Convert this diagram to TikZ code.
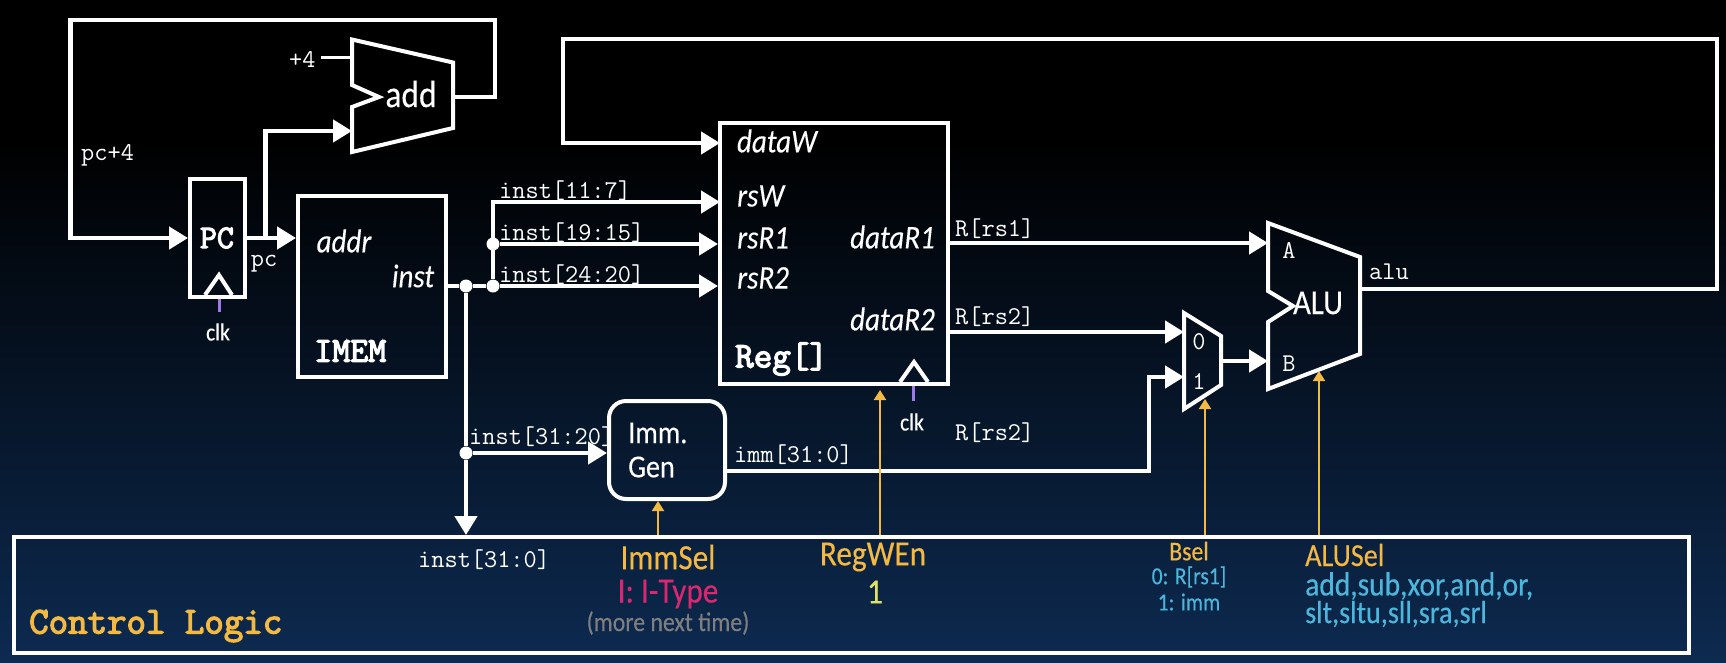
\documentclass[tikz,border=0pt]{standalone}
\usepackage{fontspec}
\setmainfont{Carlito}[FakeStretch=0.88, FakeBold=0.25]
\newfontfamily\boldmono{Latin Modern Mono}[FakeBold=3.5]
\definecolor{SlideNavy}{HTML}{0D2A50}
\definecolor{SignalOrange}{HTML}{F4B942}
\definecolor{TypePink}{HTML}{D9286F}
\definecolor{ValueYellow}{HTML}{DDE36A}
\definecolor{NoteGray}{HTML}{7F7F80}
\definecolor{ValueBlue}{HTML}{4DB6DC}
\definecolor{ClockPurple}{HTML}{9B7BE6}
\usetikzlibrary{arrows.meta}
\newcommand{\fsz}[1]{\fontsize{#1}{#1}\selectfont}
\tikzset{
  % Box styles
  blockbox/.style={rectangle, draw=white, line width=4pt, inner sep=0pt},
  blockline/.style={draw=white, line width=4pt, line join=miter},
  junctiondot/.style={circle, fill=white, minimum size=13pt, inner sep=0pt},
  % Arrow styles
  wire/.style={draw=white, line width=4.5pt, line join=miter},
  wirearrow/.style={wire, -{Triangle[length=19pt, width=22pt]}},
  signalarrow/.style={draw=SignalOrange, line width=2pt, -{Triangle[length=10pt, width=12pt]}},
  clockline/.style={draw=ClockPurple, line width=3pt},
  % Text styles
  monolabel/.style={text=white, inner sep=0pt, anchor=west, font=\fsz{25.6}\ttfamily},
  boldlabel/.style={text=white, inner sep=0pt, font=\fsz{35}\boldmono},
  pinlabel/.style={text=white, inner sep=0pt, font=\fsz{33}\itshape},
  blocklabel/.style={text=white, inner sep=0pt, font=\fsz{35}},
  clklabel/.style={text=white, inner sep=0pt, font=\fsz{24.5}},
  signallabel/.style={text=SignalOrange, inner sep=0pt, font=\fsz{35.5}},
  valuelabel/.style={text=ValueBlue, inner sep=0pt, font=\fsz{24.5}}
}
\begin{document}
\begin{tikzpicture}[x=1pt, y=-1pt]
  \useasboundingbox (0,0) rectangle (1726,662);
  % Background
  \fill[black] (0,0) rectangle (1726,141);
  \shade[top color=black, bottom color=SlideNavy] (0,140) rectangle (1726,662);

  % Boxes
  \node[blockbox, minimum width=55pt, minimum height=118pt] (pc) at (217.5,238) {};
  \node[blockbox, minimum width=148pt, minimum height=181pt] (imem) at (372,286.5) {};
  \node[blockbox, minimum width=228pt, minimum height=261pt] (reg) at (834,253.5) {};
  \node[blockbox, rounded corners=17pt, minimum width=116pt, minimum height=98pt] (imm) at (667,450) {};
  \node[blockbox, minimum width=1675pt, minimum height=116pt] (control) at (851,595) {};

  % Adder, ALU and mux
  \draw[blockline] (352,39.5) -- (453,62.5) -- (453,128) -- (352,152) -- (352,107) -- (379,97) -- (352,85) -- cycle;
  \draw[blockline] (1268,223) -- (1360,257) -- (1360,354) -- (1268,389) -- (1268,322) -- (1293,306) -- (1268,291) -- cycle;
  \draw[blockline] (1184,313) -- (1221,336) -- (1221,385) -- (1184,409) -- cycle;

  % Clock triangles
  \draw[blockline] (205,295) -- (219,275) -- (232,295);
  \draw[blockline] (900,382) -- (914,362) -- (928,382);
  \coordinate (pcclk) at (219,299);
  \coordinate (pcclkend) at (219,312);
  \coordinate (regclk) at (913,386);
  \coordinate (regclkend) at (913,401);
  \draw[clockline] (pcclk) -- (pcclkend);
  \draw[clockline] (regclk) -- (regclkend);

  % Points on the wires
  \coordinate (addin) at (352,131);
  \coordinate (addout) at (453,97);
  \coordinate (addfour) at (352,57);
  \coordinate (fourend) at (321,57);
  \coordinate (pcsplit) at (265.6,239);
  \coordinate (datawin) at (720,143);
  \coordinate (rswin) at (720,202);
  \coordinate (aluout) at (1360,289);
  \coordinate (alua) at (1268,243);
  \coordinate (alub) at (1268,361);
  \coordinate (muxa) at (1184,332);
  \coordinate (muxb) at (1184,377);
  \coordinate (muxout) at (1221,361);
  \coordinate (immbend) at (1149,471);
  \coordinate (immselin) at (658,501);
  \coordinate (regwenin) at (880,390);
  \coordinate (bselin) at (1205,399);
  \coordinate (aluselin) at (1319,371);

  \node[junctiondot] (dotinst) at (466,286) {};
  \node[junctiondot] (dotreg) at (493,286) {};
  \node[junctiondot] (dotrs) at (493,244) {};
  \node[junctiondot] (dotimm) at (466,453) {};

  % Wires
  \draw[wirearrow] (addout) -- (495,97) -- (495,20) -- (70.5,20) -- (70.5,238) -- (pc.west);
  \draw[wirearrow] (pc.east) -- (pc.east -| imem.west);
  \draw[wirearrow] (pcsplit) |- (addin);
  \draw[wire] (imem.east |- dotinst) -- (dotinst);
  \draw[wire] (dotinst) -- (dotreg);
  \draw[wirearrow] (dotreg) -- (dotreg -| reg.west);
  \draw[wirearrow] (dotrs) -- (dotrs -| reg.west);
  \draw[wirearrow] (dotreg) |- (rswin);
  \draw[wirearrow] (aluout) -- (1717,289) -- (1717,39) -- (563,39) -- (563,143) -- (datawin);
  \draw[wire] (dotinst) -- (dotimm);
  \draw[wirearrow] (dotimm) -- (dotimm |- control.north);
  \draw[wirearrow] (dotimm) -- (dotimm -| imm.west);
  \draw[wirearrow] (alua -| reg.east) -- (alua);
  \draw[wirearrow] (muxa -| reg.east) -- (muxa);
  \draw[wirearrow] (immbend -| imm.east) -- (immbend) |- (muxb);
  \draw[wirearrow] (muxout) -- (alub);
  \draw[draw=white, line width=3pt] (fourend) -- (addfour);

  % Control signals
  \draw[signalarrow] (immselin |- control.north) -- (immselin);
  \draw[signalarrow] (regwenin |- control.north) -- (regwenin);
  \draw[signalarrow] (bselin |- control.north) -- (bselin);
  \draw[signalarrow] (aluselin |- control.north) -- (aluselin);

  % Block labels
  \node[boldlabel, font=\fsz{33}\boldmono] (pclabel) at (217,238) {PC};
  \node[boldlabel, anchor=west] (imemlabel) at (314,351) {IMEM};
  \node[boldlabel, font=\fsz{36}\boldmono, anchor=west] (reglabel) at (735,359) {Reg[]};
  \node[blocklabel, font=\fsz{38}] (addlabel) at (411,94) {add};
  \node[blocklabel] (alulabel) at (1318,303) {ALU};
  \node[blocklabel, font=\fsz{32}, anchor=west] (immlabel) at (628,433) {Imm.};
  \node[blocklabel, font=\fsz{32}, anchor=west] (genlabel) at (628,467) {Gen};
  \node[clklabel] (clkpc) at (218,332) {clk};
  \node[clklabel] (clkreg) at (912,422) {clk};

  % Pin labels
  \node[pinlabel] (addrpin) at (344,241) {addr};
  \node[pinlabel] (instpin) at (413,276) {inst};
  \node[pinlabel] (datawpin) at (777,141) {dataW};
  \node[pinlabel, anchor=west] (rswpin) at (737,196) {rsW};
  \node[pinlabel, anchor=west] (rsr1pin) at (737,238) {rsR1};
  \node[pinlabel, anchor=west] (rsr2pin) at (737,278) {rsR2};
  \node[pinlabel, anchor=east] (datar1pin) at (935,237) {dataR1};
  \node[pinlabel, anchor=east] (datar2pin) at (935,319) {dataR2};
  \node[monolabel, anchor=center] (apin) at (1289,250) {A};
  \node[monolabel, anchor=center] (bpin) at (1289,364) {B};
  \node[monolabel, anchor=center] (zeropin) at (1199,342) {0};
  \node[monolabel, anchor=center] (onepin) at (1199,382) {1};

  % Wire labels
  \node[monolabel] (fourlabel) at (289,59) {+4};
  \node[monolabel] (pcfourlabel) at (81,155) {pc+4};
  \node[monolabel, anchor=center] (pcoutlabel) at (264,264) {pc};
  \node[monolabel] (rdlabel) at (499,191) {inst[11:7]};
  \node[monolabel] (rs1label) at (499,233) {inst[19:15]};
  \node[monolabel] (rs2label) at (499,275) {inst[24:20]};
  \node[monolabel] (immfield) at (469,437) {inst[31:20]};
  \node[monolabel] (immoutlabel) at (734,455) {imm[31:0]};
  \node[monolabel] (instlabel) at (418,560) {inst[31:0]};
  \node[monolabel] (rs1out) at (955,229) {R[rs1]};
  \node[monolabel] (rs2out) at (955,317) {R[rs2]};
  \node[monolabel] (rs2low) at (955,433) {R[rs2]};
  \node[monolabel] (alulab) at (1369,272) {alu};

  % Control Logic
  \node[boldlabel, text=SignalOrange, anchor=west, font=\fsz{37.8}\boldmono] (controllabel) at (29,626) {Control Logic};
  \node[signallabel] (immsellabel) at (668,557) {ImmSel};
  \node[signallabel, text=TypePink] (immtype) at (668,594) {I: I-Type};
  \node[signallabel, text=NoteGray, font=\fsz{27}] (immnote) at (668,623) {(more next time)};
  \node[signallabel] (regwenlabel) at (873,557) {RegWEn};
  \node[signallabel, text=ValueYellow] (regwenval) at (875,592) {1};
  \node[signallabel, font=\fsz{27}] (bsellabel) at (1189,551) {Bsel};
  \node[valuelabel] (bselzero) at (1189,577) {0: R[rs1]};
  \node[valuelabel] (bselone) at (1189,602) {1: imm};
  \node[signallabel, font=\fsz{32}, anchor=west] (alusellabel) at (1305,555) {ALUSel};
  \node[valuelabel, font=\fsz{33.5}, anchor=west] (aluopsa) at (1305,586) {add,sub,xor,and,or,};
  \node[valuelabel, font=\fsz{32}, anchor=west] (aluopsb) at (1305,614) {slt,sltu,sll,sra,srl};
\end{tikzpicture}
\end{document}
